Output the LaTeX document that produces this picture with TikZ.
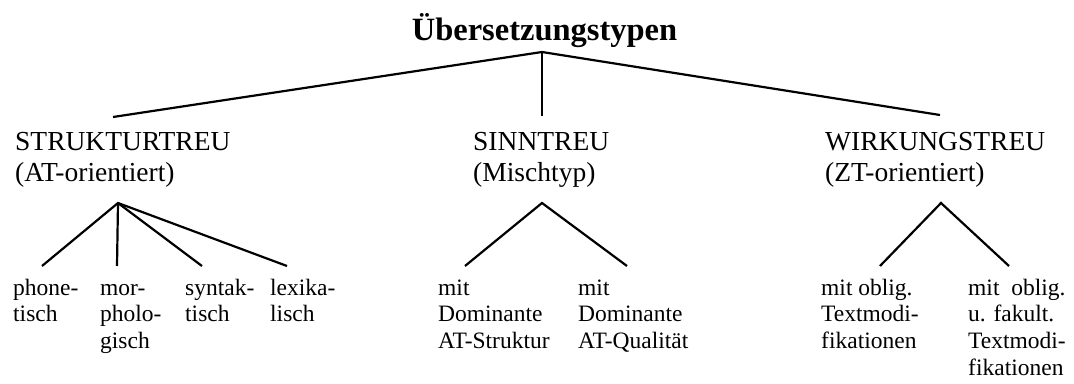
\documentclass[tikz,border=0pt]{standalone}
\usepackage{fontspec}
\setmainfont{Liberation Serif}
\begin{document}
\begin{tikzpicture}[x=1pt,y=-1pt,
  conn/.style={draw=black, line width=2.2pt, line join=miter},
  titlebox/.style={anchor=base, inner sep=0pt, font=\fontsize{32.5}{36}\selectfont\bfseries},
  lbl/.style={anchor=base west, inner sep=0pt, font=\fontsize{27.5}{31}\selectfont, align=left},
  leaf/.style={anchor=base west, inner sep=0pt, font=\fontsize{23.5}{26.7}\selectfont, align=left}]
\useasboundingbox (0,0) rectangle (1074,383);

% title
\node[titlebox] (title) at (544.5,40) {Übersetzungstypen};

% main types (anchored at baseline of last line)
\node[lbl] (struk) at (15,181) {STRUKTURTREU\\(AT-orientiert)};
\node[lbl] (sinn) at (473,181) {SINNTREU\\(Mischtyp)};
\node[lbl] (wirk) at (825,181) {WIRKUNGSTREU\\(ZT-orientiert)};

% leaves (anchored at baseline of last line)
\node[leaf] (l1) at (13,321.7) {phone-\\tisch};
\node[leaf] (l2) at (100,348.4) {mor-\\pholo-\\gisch};
\node[leaf] (l3) at (185,321.7) {syntak-\\tisch};
\node[leaf] (l4) at (270,321.7) {lexika-\\lisch};
\node[leaf] (m1) at (438,348.4) {mit\\Dominante\\AT-Struktur};
\node[leaf] (m2) at (578,348.4) {mit\\Dominante\\AT-Qualität};
\node[leaf] (r1) at (821,348.4) {mit oblig.\\Textmodi-\\fikationen};
\node[leaf] (r2) at (968,375.1) {mit\ \ oblig.\\u. fakult.\\Textmodi-\\fikationen};

% connector points
\coordinate (top) at (542,52);
\coordinate (ts) at (113,117);
\coordinate (tm) at (542,116);
\coordinate (tw) at (940,115);

\coordinate (as) at (118,203);
\coordinate (a1) at (42,266);
\coordinate (a2) at (117,266);
\coordinate (a3) at (202,266);
\coordinate (a4) at (287,266);

\coordinate (am) at (542,203);
\coordinate (b1) at (465,266);
\coordinate (b2) at (627,266);

\coordinate (aw) at (941,203);
\coordinate (c1) at (880,266);
\coordinate (c2) at (1009,266);

% connectors
\draw[conn] (ts) -- (top) -- (tw);
\draw[conn] (top) -- (tm);

\draw[conn] (a1) -- (as) -- (a4);
\draw[conn] (as) -- (a2);
\draw[conn] (as) -- (a3);

\draw[conn] (b1) -- (am) -- (b2);
\draw[conn] (c1) -- (aw) -- (c2);
\end{tikzpicture}
\end{document}
